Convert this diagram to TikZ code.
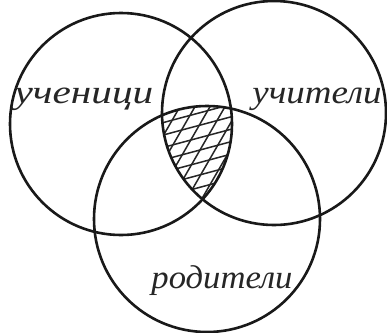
\documentclass[tikz,border=0pt]{standalone}
\usepackage{fontspec}
\usetikzlibrary{calc}
\newfontfamily\hand{Liberation Serif}
\begin{document}
\begin{tikzpicture}[x=1pt,y=-1pt,
  ring/.style={draw=black!90,line width=2.6pt},
  hatch/.style={draw=black!85,line width=1.5pt},
  lbl/.style={font=\hand\itshape\fontsize{33}{33}\selectfont,inner sep=0pt,anchor=base,text=black!85}]
\useasboundingbox[fill=white] (0,0) rectangle (387,332);
\coordinate (cA) at (121,124);
\coordinate (cB) at (274,113);
\coordinate (cC) at (207,219);
\coordinate (hc) at (200,150);
\begin{scope}
  \clip (cA) circle (111);
  \clip (cB) circle (112);
  \clip (cC) circle (113);
  \foreach \k in {-8,...,8}{
    \draw[hatch] ($(hc)+({\k*13*sin(60)},{\k*13*cos(60)})+({-80*cos(60)},{80*sin(60)})$) -- ++({160*cos(60)},{-160*sin(60)});
    \draw[hatch] ($(hc)+({\k*12*sin(15)},{\k*12*cos(15)})+({-80*cos(15)},{80*sin(15)})$) -- ++({160*cos(15)},{-160*sin(15)});
  }
\end{scope}
\draw[ring] (cA) circle (111);
\draw[ring] (cB) circle (112);
\draw[ring] (cC) circle (113);
\node[lbl,xscale=1.25] (uch) at (84,103) {ученици};
\node[lbl,xscale=1.12] (uchit) at (317,103) {учители};
\node[lbl,xscale=1.05] (rod) at (222,288) {родители};
\end{tikzpicture}
\end{document}
